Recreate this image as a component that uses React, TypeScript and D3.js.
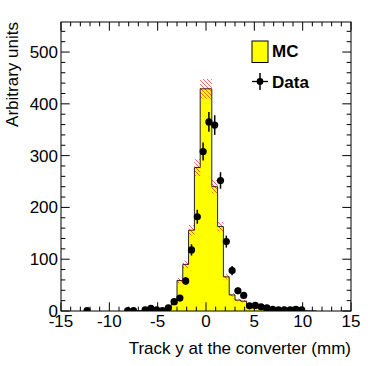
import * as d3 from "d3";

// MC histogram: bins of 0.6 mm, given by their centres
const binWidth = 0.6;
const mcCenters = [
  -8.1, -7.5, -6.9, -6.3, -5.7, -5.1, -4.5, -3.9, -3.3, -2.7, -2.1, -1.5, -0.9, -0.3,
  0.3, 0.9, 1.5, 2.1, 2.7, 3.3, 3.9, 4.5, 5.1, 5.7, 6.3, 6.9, 7.5, 8.1, 8.7, 9.3, 9.9,
  10.5, 11.1,
];
const mcValues = [
  0.2, 0.4, 0.7, 1, 1.5, 2, 3, 5, 14, 59, 90, 156, 277, 429,
  429, 240, 163, 66, 31, 21, 19, 8, 6, 5, 3, 2, 1.5, 1, 1, 0.7, 0.5,
  0.3, 0.2,
];
const mcErrors = [
  0.6, 0.6, 0.6, 0.6, 0.7, 0.8, 1, 1.5, 2.5, 5, 7, 10, 16, 19,
  19, 13, 9, 5, 3, 2.5, 2.5, 1.5, 1.2, 1, 0.8, 0.7, 0.6, 0.6, 0.6, 0.6, 0.6,
  0.6, 0.6,
];

// Data points
const dataCenters = [
  -12.3, -8.1, -7.5, -6.3, -5.7, -5.1, -4.5, -3.9, -3.3, -2.7, -2.1, -1.5, -0.9, -0.3,
  0.3, 0.9, 1.5, 2.1, 2.7, 3.3, 3.9, 4.5, 5.1, 5.7, 6.3, 6.9, 7.5, 8.1, 8.7, 9.3, 9.9,
];
const dataValues = [
  1, 1, 1, 2, 5, 2, 1, 6, 18, 25, 58, 118, 182, 308,
  365, 359, 252, 134, 78, 39, 30, 10, 11, 8, 6, 3, 2, 2, 2, 3, 2,
];
const dataErrors = [
  1, 1, 1, 1.4, 2.2, 1.4, 1, 2.4, 4.2, 5, 7.6, 10.9, 13.5, 17.5,
  19.1, 18.9, 15.9, 11.6, 8.8, 6.2, 5.5, 3.2, 3.3, 2.8, 2.4, 1.7, 1.4, 1.4, 1.4, 1.7, 1.4,
];

const xTicks = [-15, -10, -5, 0, 5, 10, 15];
const yTicks = [0, 100, 200, 300, 400, 500];
const xTitle = "Track y at the converter (mm)";
const yTitle = "Arbitrary units";
const legendLabels = ["MC", "Data"];

const W = 382;
const H = 366;
const frame = { left: 61, right: 351, top: 22, bottom: 311 };
const font = "'Liberation Sans', Arial, Helvetica, sans-serif";

export default function App() {
  const x = d3.scaleLinear().domain([-15, 15]).range([frame.left, frame.right]);
  const y = d3.scaleLinear().domain([0, 558]).range([frame.bottom, frame.top]);

  const majorLen = 8.7;
  const minorLen = 4.35;
  const xMinor = d3.range(-15, 15.001, 1);
  const yMinor = d3.range(0, 558, 20);

  // step outline of the MC histogram
  const stepPts: [number, number][] = [];
  mcCenters.forEach((c, i) => {
    const lo = c - binWidth / 2;
    const hi = c + binWidth / 2;
    if (i === 0) stepPts.push([lo, 0]);
    stepPts.push([lo, mcValues[i]]);
    stepPts.push([hi, mcValues[i]]);
    if (i === mcCenters.length - 1) stepPts.push([hi, 0]);
  });
  const line = d3
    .line<[number, number]>()
    .x((d) => x(d[0]))
    .y((d) => y(d[1]));
  const stepPath = line(stepPts) || "";

  return (
    <svg
      width={W}
      height={H}
      style={{ position: "absolute", left: 0, top: 0, background: "#fff" }}
      fontFamily={font}
    >
      <defs>
        <pattern id="hatch" patternUnits="userSpaceOnUse" width={4} height={4}>
          <path d="M-1,-1 L5,5 M-1,3 L1,5 M3,-1 L5,1" stroke="#ff2020" strokeWidth={0.7} />
        </pattern>
        <clipPath id="frameClip">
          <rect x={frame.left} y={frame.top} width={frame.right - frame.left} height={frame.bottom - frame.top} />
        </clipPath>
      </defs>
      <rect x={0} y={0} width={W} height={H} fill="#fff" />

      <g clipPath="url(#frameClip)">
        {/* MC fill */}
        <path d={stepPath + "Z"} fill="#ffff00" stroke="none" />
        {/* MC error band */}
        {mcCenters.map((c, i) => (
          <rect
            key={"e" + i}
            x={x(c - binWidth / 2)}
            width={x(c + binWidth / 2) - x(c - binWidth / 2)}
            y={y(mcValues[i] + mcErrors[i])}
            height={y(Math.max(0, mcValues[i] - mcErrors[i])) - y(mcValues[i] + mcErrors[i])}
            fill="url(#hatch)"
          />
        ))}
        {/* MC outline */}
        <path d={stepPath} fill="none" stroke="#222" strokeWidth={1} />

        {/* data */}
        {dataCenters.map((c, i) => (
          <g key={"d" + i}>
            <line
              x1={x(c)}
              x2={x(c)}
              y1={y(dataValues[i] + dataErrors[i])}
              y2={y(Math.max(0, dataValues[i] - dataErrors[i]))}
              stroke="#000"
              strokeWidth={1.5}
            />
            <circle cx={x(c)} cy={y(dataValues[i])} r={3.6} fill="#000" />
          </g>
        ))}
      </g>

      {/* frame */}
      <rect
        x={frame.left}
        y={frame.top}
        width={frame.right - frame.left}
        height={frame.bottom - frame.top}
        fill="none"
        stroke="#000"
        strokeWidth={1}
      />

      {/* x ticks (bottom and top) */}
      {xMinor.map((v) => {
        const len = xTicks.includes(v) ? majorLen : minorLen;
        return (
          <g key={"xt" + v} stroke="#000" strokeWidth={1}>
            <line x1={x(v)} x2={x(v)} y1={frame.bottom} y2={frame.bottom - len} />
            <line x1={x(v)} x2={x(v)} y1={frame.top} y2={frame.top + len} />
          </g>
        );
      })}
      {/* y ticks (left and right) */}
      {yMinor.map((v) => {
        const len = yTicks.includes(v) ? majorLen : minorLen;
        return (
          <g key={"yt" + v} stroke="#000" strokeWidth={1}>
            <line x1={frame.left} x2={frame.left + len} y1={y(v)} y2={y(v)} />
            <line x1={frame.right} x2={frame.right - len} y1={y(v)} y2={y(v)} />
          </g>
        );
      })}

      {/* tick labels */}
      {xTicks.map((v) => (
        <text key={"xl" + v} x={x(v)} y={frame.bottom + 16} textAnchor="middle" fontSize={17} fill="#000">
          {v}
        </text>
      ))}
      {yTicks.map((v) => (
        <text key={"yl" + v} x={frame.left - 3} y={y(v) + 6} textAnchor="end" fontSize={17} fill="#000">
          {v}
        </text>
      ))}

      {/* axis titles */}
      <text x={frame.right} y={354} textAnchor="end" fontSize={17} fill="#000">
        {xTitle}
      </text>
      <text
        transform={`translate(18, ${frame.top}) rotate(-90)`}
        textAnchor="end"
        fontSize={17}
        fill="#000"
      >
        {yTitle}
      </text>

      {/* legend */}
      <rect x={252} y={41} width={16} height={21.5} fill="#ffff00" stroke="#000" strokeWidth={1} />
      <text x={272} y={57} fontSize={17} fontWeight="bold" fill="#000">
        {legendLabels[0]}
      </text>
      <line x1={252} x2={268} y1={81.5} y2={81.5} stroke="#000" strokeWidth={1.3} />
      <line x1={260} x2={260} y1={73} y2={90} stroke="#000" strokeWidth={1.5} />
      <circle cx={260} cy={81.5} r={3.4} fill="#000" />
      <text x={272} y={87.5} fontSize={17} fontWeight="bold" fill="#000">
        {legendLabels[1]}
      </text>
    </svg>
  );
}
